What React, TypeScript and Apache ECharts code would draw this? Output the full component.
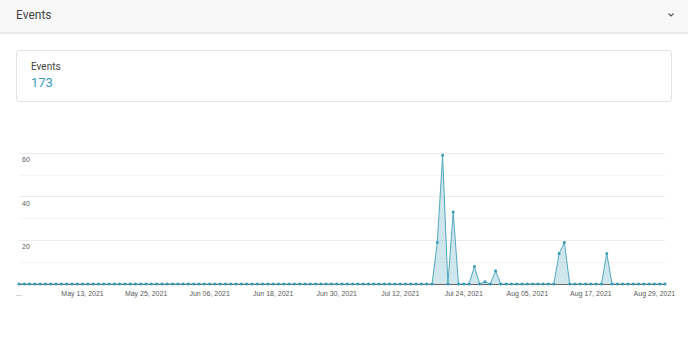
import React, { useEffect, useRef } from "react";
import * as echarts from "echarts";

// Daily event counts, May 01 2021 .. Aug 31 2021 (123 days)
const eventCounts: number[] = [
  0, 0, 0, 0, 0, 0, 0, 0, 0, 0,
  0, 0, 0, 0, 0, 0, 0, 0, 0, 0,
  0, 0, 0, 0, 0, 0, 0, 0, 0, 0,
  0, 0, 0, 0, 0, 0, 0, 0, 0, 0,
  0, 0, 0, 0, 0, 0, 0, 0, 0, 0,
  0, 0, 0, 0, 0, 0, 0, 0, 0, 0,
  0, 0, 0, 0, 0, 0, 0, 0, 0, 0,
  0, 0, 0, 0, 0, 0, 0, 0, 0, 19,
  59, 0, 33, 0, 0, 0, 8, 0, 1, 0,
  6, 0, 0, 0, 0, 0, 0, 0, 0, 0,
  0, 0, 14, 19, 0, 0, 0, 0, 0, 0,
  0, 14, 0, 0, 0, 0, 0, 0, 0, 0,
  0, 0, 0,
];

const startDate = { year: 2021, month: 4, day: 1 }; // May 01, 2021
const monthNames = ["Jan", "Feb", "Mar", "Apr", "May", "Jun", "Jul", "Aug", "Sep", "Oct", "Nov", "Dec"];

const dayLabels: string[] = eventCounts.map((_, i) => {
  const d = new Date(Date.UTC(startDate.year, startDate.month, startDate.day + i));
  const dd = String(d.getUTCDate()).padStart(2, "0");
  return `${monthNames[d.getUTCMonth()]} ${dd}, ${d.getUTCFullYear()}`;
});

const yTicks = { max: 60, step: 10, labelEvery: 20 };
const cardTitle = "Events";
const cardValue = "173";
const panelTitle = "Events";

const FONT = "Roboto, 'Noto Sans', sans-serif";

function EventsChart() {
  const ref = useRef<HTMLDivElement>(null);
  useEffect(() => {
    if (!ref.current) return;
    const chart = echarts.init(ref.current, undefined, { renderer: "svg" });
    chart.setOption({
      animation: false,
      grid: { left: 19, right: 23, top: 43, bottom: 54, containLabel: false },
      xAxis: {
        type: "category",
        data: dayLabels,
        boundaryGap: false,
        axisLine: { show: true, lineStyle: { color: "#666", width: 1 } },
        axisTick: { show: false },
        splitLine: { show: false },
        axisLabel: {
          interval: 11,
          margin: 6,
          fontSize: 7,
          color: "#5a5a5a",
          fontFamily: "'Liberation Sans', Arial, sans-serif",
          formatter: (v: string, idx: number) => (idx === 0 ? "..." : v),
        },
      },
      yAxis: {
        type: "value",
        min: 0,
        max: yTicks.max,
        interval: yTicks.step,
        axisLine: { show: false },
        axisTick: { show: false },
        splitLine: {
          show: true,
          lineStyle: { color: ["#ebebeb", "#f5f5f5"], width: 1 },
        },
        axisLabel: {
          inside: true,
          margin: 3,
          fontSize: 7,
          color: "#5a5a5a",
          verticalAlign: "top",
          padding: [3, 0, 0, 0],
          fontFamily: "'Liberation Sans', Arial, sans-serif",
          formatter: (v: number) => (v === 0 || v % yTicks.labelEvery !== 0 ? "" : String(v)),
        },
      },
      series: [
        {
          type: "line",
          data: eventCounts,
          symbol: "circle",
          symbolSize: 3,
          showSymbol: true,
          itemStyle: { color: "#3a9ab5" },
          lineStyle: { color: "#52a8bf", width: 1 },
          areaStyle: { color: "rgba(75,160,186,0.38)" },
        },
      ],
    });
    return () => chart.dispose();
  }, []);
  return (
    <div
      ref={ref}
      style={{ position: "absolute", left: 0, top: 110, width: 688, height: 228 }}
    />
  );
}

export default function App() {
  return (
    <div
      style={{
        position: "fixed",
        left: 0,
        top: 0,
        width: 688,
        height: 338,
        background: "#fff",
        fontFamily: FONT,
        overflow: "hidden",
      }}
    >
      <div
        style={{
          position: "absolute",
          left: 0,
          top: 0,
          width: 688,
          height: 32,
          background: "#f8f8f8",
          borderBottom: "2px solid #e9e9e9",
        }}
      >
        <div
          style={{
            position: "absolute",
            left: 16,
            top: 7,
            fontSize: 12,
            lineHeight: "16px",
            color: "#444",
          }}
        >
          {panelTitle}
        </div>
        <svg
          width={8}
          height={6}
          style={{ position: "absolute", left: 666.5, top: 12 }}
        >
          <polyline points="1.5,1.5 4,4 6.5,1.5" fill="none" stroke="#555" strokeWidth={1.2} />
        </svg>
      </div>
      <div
        style={{
          position: "absolute",
          left: 16,
          top: 50,
          width: 656,
          height: 52,
          boxSizing: "border-box",
          border: "1px solid #e2e2e2",
          borderRadius: 4,
          background: "#fff",
        }}
      >
        <div
          style={{
            position: "absolute",
            left: 14,
            top: 9,
            fontSize: 10,
            lineHeight: "14px",
            color: "#444",
          }}
        >
          {cardTitle}
        </div>
        <div
          style={{
            position: "absolute",
            left: 14,
            top: 23,
            fontSize: 13,
            lineHeight: "18px",
            color: "#3a9cbc",
          }}
        >
          {cardValue}
        </div>
      </div>
      <EventsChart />
    </div>
  );
}
